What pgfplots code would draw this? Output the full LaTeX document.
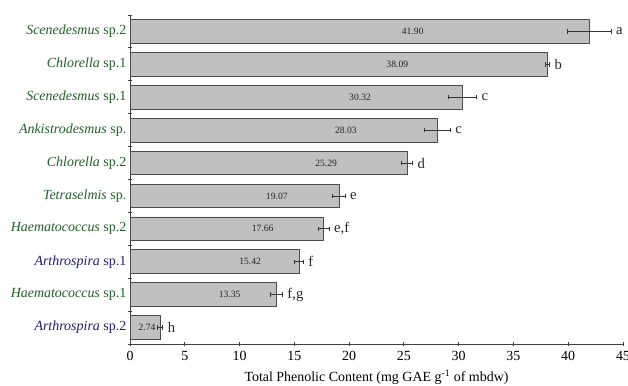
\documentclass[border=0pt]{standalone}
\usepackage{fontspec}
\setmainfont{Liberation Serif}
\usepackage{pgfplots}
\pgfplotsset{compat=1.18}
\usepackage{pgfplotstable}
\definecolor{gr}{RGB}{30,95,40}
\definecolor{bl}{RGB}{30,30,110}
\definecolor{barfill}{RGB}{192,192,192}
\pgfplotstableread{
y val err lx lab let
0 2.74 0.25 1.55 2.74 h
1 13.35 0.55 9.1 13.35 f,g
2 15.42 0.38 10.96 15.42 f
3 17.66 0.50 12.1 17.66 e,f
4 19.07 0.55 13.4 19.07 e
5 25.29 0.50 17.9 25.29 d
6 28.03 1.20 19.7 28.03 c
7 30.32 1.30 21.0 30.32 c
8 38.09 0.20 24.4 38.09 b
9 41.90 2.00 25.8 41.90 a
}\data
\begin{document}
\begin{tikzpicture}
\begin{axis}[
  scale only axis, width=353.3pt, height=235.8pt,
  xmin=0, xmax=45, ymin=-0.5, ymax=9.5,
  axis lines*=left,
  axis line style={draw=black!75, line width=0.6pt},
  xtick={0,5,...,45},
  ytick={0,...,9},
  yticklabels={
    {\color{bl}\textit{Arthrospira} sp.2},
    {\color{gr}\textit{Haematococcus} sp.1},
    {\color{bl}\textit{Arthrospira} sp.1},
    {\color{gr}\textit{Haematococcus} sp.2},
    {\color{gr}\textit{Tetraselmis} sp.},
    {\color{gr}\textit{Chlorella} sp.2},
    {\color{gr}\textit{Ankistrodesmus} sp.},
    {\color{gr}\textit{Scenedesmus} sp.1},
    {\color{gr}\textit{Chlorella} sp.1},
    {\color{gr}\textit{Scenedesmus} sp.2}},
  minor ytick={-0.5,0.5,...,9.5},
  major y tick style={draw=none},
  tick align=center,
  major tick length=3pt, minor tick length=3pt,
  tick style={draw=black!75, line width=0.6pt},
  yticklabel style={inner xsep=1pt},
  /pgf/number format/assume math mode=true,
  ticklabel style={font=\fontsize{10}{12}\selectfont},
  xlabel={Total Phenolic Content (mg GAE g\textsuperscript{-1} of mbdw)},
  xlabel style={font=\fontsize{10}{12}\selectfont, yshift=0pt},
  clip=false,
]
\coordinate (SW) at (rel axis cs:0,0);
\coordinate (NE) at (rel axis cs:1,1);
\addplot[xbar, bar width=0.72, fill=barfill, draw=black!70, line width=0.6pt,
  error bars/.cd, x dir=both, x explicit,
  error bar style={draw=black!80, line width=0.6pt},
  error mark options={rotate=90, mark size=1.6pt, line width=0.6pt, draw=black!80}]
  table[x=val, y=y, x error=err] {\data};
\addplot[draw=none, mark=none, nodes near coords, point meta=explicit symbolic,
  nodes near coords style={anchor=center, font=\fontsize{6.9}{8}\selectfont, text=black!85}]
  table[x=lx, y=y, meta=lab] {\data};
\addplot[draw=none, mark=none, nodes near coords, point meta=explicit symbolic,
  nodes near coords style={anchor=west, inner xsep=1pt, xshift=2.5pt, font=\fontsize{10.5}{12}\selectfont, text=black!85}]
  table[x expr=\thisrow{val}+\thisrow{err}, y=y, meta=let] {\data};
\end{axis}
\pgfresetboundingbox
\path[use as bounding box] ([shift={(-93.2pt,-30.1pt)}]SW) rectangle ([shift={(3.6pt,10.75pt)}]NE);
\end{tikzpicture}
\end{document}
